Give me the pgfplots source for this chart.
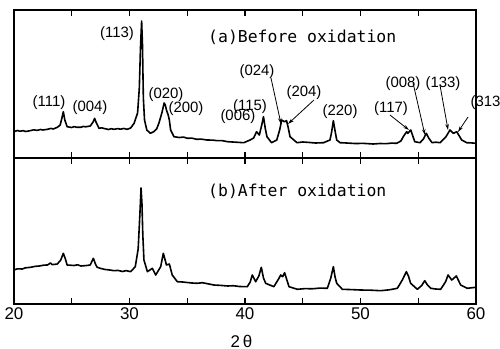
\documentclass[border=0pt]{standalone}
\usepackage{fontspec}
\setmainfont{Liberation Sans}
\newfontfamily\monofont{DejaVu Sans Mono}
\usepackage{pgfplots}
\pgfplotsset{compat=1.18}
\usetikzlibrary{arrows.meta}
\tikzset{
  pk/.style={font=\fontsize{15}{15}\selectfont, inner sep=0pt},
  arr/.style={-{Stealth[length=6bp,width=3.5bp]}, line width=0.8bp},
  curve/.style={black, line width=1.6bp, line join=round},
}
\begin{document}
\begin{tikzpicture}
\pgfplotsset{
  every axis/.append style={
    scale only axis, width=462bp, xmin=20, xmax=60, ymin=0,
    ytick=\empty, tick align=inside, major tick length=6bp,
    axis line style={line width=1.8bp},
    every tick/.style={line width=1.4bp, black},
    clip=false,
    /pgf/number format/assume math mode=true,
  },
}
% ---------- top panel ----------
\begin{axis}[at={(0,0)}, anchor=south west, height=148bp, ymax=148,
  xtick={25,30,35,40,45,50,55}, xticklabels={}]
\addplot[curve, no markers] coordinates {
(20.0,26.3) (20.3,27.5) (20.5,26.8) (20.8,27.3) (21.0,26.5) (21.4,27.3) (21.7,28.2)
(22.0,27.6) (22.3,28.5) (22.5,28.0) (22.9,28.7) (23.2,29.6) (23.4,29.0)
(23.75,30.7) (24.0,33) (24.15,40) (24.27,46.3) (24.4,38) (24.6,31.3)
(25.0,30.5) (25.2,31.4) (25.4,30.8) (25.8,30.7) (26.0,31.6) (26.2,31.2) (26.6,32) (26.85,36) (26.98,39.7)
(27.1,36) (27.36,29.7) (27.6,30.2) (27.8,29.5) (28.2,28.5) (28.4,29.3) (28.66,28.7) (29.0,29.4) (29.2,28.8) (29.5,29.5) (29.8,28.7)
(30.1,30) (30.4,34.7) (30.7,45) (30.85,70) (30.95,110) (31.05,137) (31.12,115)
(31.2,60) (31.3,38) (31.5,28) (31.8,24.7) (32.1,26.3) (32.35,29) (32.55,35)
(32.8,45) (33.0,55) (33.1,53) (33.2,48) (33.35,43) (33.45,38) (33.56,28)
(33.85,21.3) (34.3,20.5) (34.7,20.9) (35.0,19.7) (35.4,19.9) (35.8,18.7) (36.2,18.9) (36.7,18) (37.2,17.9) (37.6,17.3) (38.0,17.4) (38.5,16.3)
(39.2,15.8) (39.9,15.3) (40.44,18) (40.75,20) (41.0,26.3) (41.24,23) (41.45,33)
(41.6,41.3) (41.75,30) (41.9,21.3) (42.3,15.3) (42.75,18) (43.0,28) (43.18,38)
(43.4,36.3) (43.6,37.3) (43.75,30) (43.9,21.3) (44.5,15.3) (45.0,16.0) (45.5,15.6) (46.1,15.0) (46.8,15.3)
(47.36,18) (47.5,26) (47.65,37.3) (47.8,27) (47.94,18) (48.23,15.3) (48.8,15.0) (49.5,14.5)
(50.3,14.6) (51.1,14) (51.7,14.5) (52.2,14.3) (52.7,14.9) (53.13,14.7) (53.5,17) (53.7,21.3) (54.0,26.3) (54.1,24.7)
(54.35,28) (54.5,23) (54.7,16.3) (55.15,15.3) (55.45,19) (55.7,24.7) (55.9,20)
(56.2,15.3) (56.5,15.8) (56.9,15.3) (57.4,21.3) (57.75,28) (58.04,24.7) (58.33,26.3)
(58.76,18) (59.2,15.3) (59.6,15.1) (60.0,14.7)
};
\node[anchor=base west, inner sep=0pt, font=\monofont\fontsize{16.5}{16.5}\selectfont]
  at (axis cs:36.8,116) {(a)Before oxidation};
\node[pk] at (axis cs:23.03,55) {(111)};
\node[pk] at (axis cs:26.58,50) {(004)};
\node[pk] at (axis cs:28.92,124) {(113)};
\node[pk] at (axis cs:33.16,63) {(020)};
\node[pk] at (axis cs:34.89,49) {(200)};
\node[pk] at (axis cs:39.39,41) {(006)};
\node[pk] at (axis cs:40.43,51) {(115)};
\node[pk] at (axis cs:41.04,86) {(024)};
\node[pk] at (axis cs:45.11,65) {(204)};
\node[pk] at (axis cs:48.23,46) {(220)};
\node[pk] at (axis cs:52.64,49) {(117)};
\node[pk] at (axis cs:53.68,74) {(008)};
\node[pk] at (axis cs:57.14,74) {(133)};
\node[pk] at (axis cs:61.04,55) {(313)};
\draw[arr] (axis cs:42.25,80) -- (axis cs:43.12,34);
\draw[arr] (axis cs:45.97,58) -- (axis cs:43.72,34);
\draw[arr] (axis cs:52.55,43) -- (axis cs:54.2,28);
\draw[arr] (axis cs:54.55,75) -- (axis cs:55.58,23);
\draw[arr] (axis cs:56.88,73) -- (axis cs:57.58,28);
\draw[arr] (axis cs:59.31,41) -- (axis cs:58.44,26);
\end{axis}
% ---------- bottom panel ----------
\begin{axis}[at={(0,0)}, anchor=north west, height=146bp, ymax=146,
  xtick={20,25,30,35,40,45,50,55,60}, xticklabels={20,,30,,40,,50,,60},
  xticklabel style={font=\fontsize{17}{17}\selectfont}]
\addplot[curve, no markers] coordinates {
(20.0,34) (20.3,35.2) (20.7,35) (21.0,36.2) (21.44,36.7) (21.8,37.6) (22.2,38) (22.6,38.9) (22.9,39) (23.15,41) (23.3,39.3) (23.4,39.5) (23.75,40)
(24.05,44) (24.27,50.7) (24.45,45) (24.6,39) (25.2,38.5) (25.5,39.2) (25.8,38) (26.3,38.5)
(26.6,39) (26.87,45.7) (27.05,40) (27.2,36.7) (27.5,35.6) (27.9,34.5) (28.3,34.0) (28.66,33.3) (29.0,33.6) (29.4,32.5) (29.7,33.4)
(30.1,32.3) (30.5,37.3) (30.75,55) (30.9,90) (31.0,116) (31.08,100) (31.15,70)
(31.25,44) (31.55,32.3) (31.98,35.7) (32.27,29) (32.7,37.3) (32.93,50.7) (33.2,39)
(33.45,40) (33.7,29) (34.14,22.3) (34.6,22.0) (35.0,21.5) (35.4,21.0) (35.87,20.7) (36.3,21.3) (36.8,20.2) (37.3,19)
(37.9,18.6) (38.5,18) (39.0,18.3) (39.5,17.5) (40.2,17.3) (40.45,22) (40.63,29) (40.92,22.3) (41.2,28)
(41.41,36.7) (41.6,26) (41.79,20.7) (42.5,17.3) (42.94,25.7) (43.09,29) (43.26,27.3)
(43.43,31.3) (43.6,25) (43.81,17.3) (44.53,14.7) (45.2,15.4) (45.8,15.2) (46.5,15.9) (47.13,15.7)
(47.42,25.7) (47.65,37.3) (47.8,27) (47.94,20.7) (48.43,14.7) (49.2,14.4) (50.0,14) (50.9,13.8) (51.75,13.3)
(52.5,14.2) (53.19,15.7) (53.62,24) (53.97,32.3) (54.15,28) (54.34,20.7) (54.92,14.7)
(55.3,18.5) (55.56,23.3) (55.8,19) (56.08,15.7) (56.5,15.0) (56.94,14.7) (57.37,22.3)
(57.58,29) (57.9,24) (58.3,28) (58.67,19) (59.25,15.7) (59.6,16.2) (60.0,16.7)
};
\node[anchor=base west, inner sep=0pt, font=\monofont\fontsize{16.5}{16.5}\selectfont]
  at (axis cs:36.8,108) {(b)After oxidation};
\node[font=\fontsize{17}{17}\selectfont] at (axis cs:39.7,-37) {2\,θ};
\end{axis}
\pgfresetboundingbox
\useasboundingbox (-14bp,-191bp) rectangle (486bp,158bp);
\end{tikzpicture}
\end{document}
